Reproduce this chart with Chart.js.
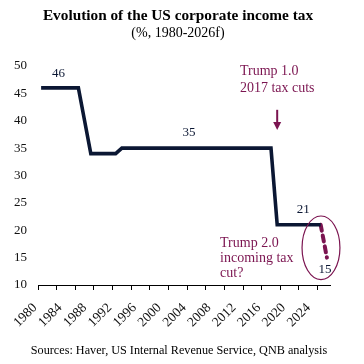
<!DOCTYPE html>
<html>
<head>
<meta charset="utf-8">
<script src="https://cdn.jsdelivr.net/npm/chart.js@4.4.1/dist/chart.umd.min.js"></script>
<style>
  html, body { margin: 0; padding: 0; background: #fff; }
  #wrap { position: relative; width: 364px; height: 364px; font-family: 'Liberation Serif', 'Times New Roman', serif; color: #000; }
  #wrap canvas { position: absolute; left: 0; top: 0; }
  .txt { position: absolute; left: -4px; width: 364px; text-align: center; white-space: nowrap; }
  #title { top: 6px; font-size: 15.3px; font-weight: bold; line-height: 18px; }
  #subtitle { top: 24px; font-size: 14px; line-height: 17px; }
  #source { top: 342px; left: -3px; font-size: 12.2px; line-height: 16px; }
</style>
</head>
<body>
<div id="wrap">
  <canvas id="taxChart" width="364" height="364"></canvas>
  <div class="txt" id="title">Evolution of the US corporate income tax</div>
  <div class="txt" id="subtitle">(%, 1980-2026f)</div>
  <div class="txt" id="source">Sources: Haver, US Internal Revenue Service, QNB analysis</div>
</div>
<script>
// ---- data ----
const years = [1980,1981,1982,1983,1984,1985,1986,1987,1988,1989,1990,1991,1992,1993,1994,1995,
  1996,1997,1998,1999,2000,2001,2002,2003,2004,2005,2006,2007,2008,2009,2010,2011,2012,2013,
  2014,2015,2016,2017,2018,2019,2020,2021,2022,2023,2024,2025,2026];
const taxRate = [46,46,46,46,46,46,46,40,34,34,34,34,34,35,35,35,
  35,35,35,35,35,35,35,35,35,35,35,35,35,35,35,35,35,35,
  35,35,35,35,21,21,21,21,21,21,21,21,null];
const forecast = [null,null,null,null,null,null,null,null,null,null,null,null,null,null,null,null,
  null,null,null,null,null,null,null,null,null,null,null,null,null,null,null,null,null,null,
  null,null,null,null,null,null,null,null,null,null,null,21,15];
const yMin = 10, yMax = 50, yStep = 5;
const labelEvery = 4;   // a year label every 4 years
const tickEvery = 3;    // a tick mark every 3 categories, as in the source

const navy = '#0b1733';
const plum = '#7b1450';
const serif = "'Liberation Serif', 'Times New Roman', serif";

// annotations, anchored in (year, value) units
const valueNotes = [
  { text: '46', year: 1982.8, value: 48.7 },
  { text: '35', year: 2003.8, value: 37.8 },
  { text: '21', year: 2022.2, value: 23.7 },
  { text: '15', year: 2025.7, value: 12.8 }
];
const textNotes = [
  { lines: ['Trump 1.0', '2017 tax cuts'], year: 2012, value: 49.1, step: 3.1 },
  { lines: ['Trump 2.0', 'incoming tax', 'cut?'], year: 2008.8, value: 17.7, step: 2.75 }
];

const notesPlugin = {
  id: 'notes',
  afterDatasetsDraw(chart) {
    const { ctx, scales: { x, y } } = chart;
    const px = yr => x.getPixelForValue(yr - years[0]);
    ctx.save();
    ctx.textBaseline = 'middle';

    ctx.font = '13px ' + serif;
    ctx.fillStyle = navy;
    ctx.textAlign = 'center';
    valueNotes.forEach(n => ctx.fillText(n.text, px(n.year), y.getPixelForValue(n.value)));

    ctx.font = '14px ' + serif;
    ctx.fillStyle = plum;
    ctx.textAlign = 'left';
    textNotes.forEach(n => n.lines.forEach((l, i) =>
      ctx.fillText(l, px(n.year), y.getPixelForValue(n.value - i * n.step))));

    // arrow pointing at the 2017 drop
    const ax = px(2018), ay0 = y.getPixelForValue(42), ay1 = y.getPixelForValue(38.3);
    ctx.strokeStyle = plum;
    ctx.lineWidth = 2;
    ctx.beginPath(); ctx.moveTo(ax, ay0); ctx.lineTo(ax, ay1 - 6); ctx.stroke();
    ctx.beginPath();
    ctx.moveTo(ax - 4, ay1 - 8); ctx.lineTo(ax + 4, ay1 - 8); ctx.lineTo(ax, ay1); ctx.closePath();
    ctx.fill();

    // ellipse round the forecast
    const cx = px(2025.05), cy = y.getPixelForValue(16.8);
    const rx = px(2028.1) - cx, ry = cy - y.getPixelForValue(22.6);
    ctx.lineWidth = 1.2;
    ctx.beginPath(); ctx.ellipse(cx, cy, rx, ry, 0, 0, Math.PI * 2); ctx.stroke();
    ctx.restore();
  }
};

new Chart(document.getElementById('taxChart'), {
  type: 'line',
  data: {
    labels: years,
    datasets: [
      { data: taxRate, borderColor: navy, borderWidth: 3.6, borderJoinStyle: 'miter',
        pointRadius: 0, tension: 0, spanGaps: false },
      { data: forecast, borderColor: plum, borderWidth: 4, borderDash: [6, 5],
        borderCapStyle: 'round', pointRadius: 0, tension: 0 }
    ]
  },
  options: {
    responsive: false,
    animation: false,
    events: [],
    layout: { padding: { top: 66, right: 34, bottom: 0, left: 0 } },
    plugins: { legend: { display: false }, tooltip: { enabled: false }, title: { display: false } },
    scales: {
      x: {
        type: 'category',
        offset: true,
        border: { display: true, color: '#000', width: 1 },
        grid: {
          display: true, drawOnChartArea: false, drawTicks: true, tickLength: 5, offset: true,
          tickColor: c => (c.index % tickEvery === 0 ? '#000' : 'rgba(0,0,0,0)'), tickWidth: 1
        },
        ticks: {
          autoSkip: false, minRotation: 45, maxRotation: 45, padding: 10, labelOffset: -6,
          color: '#111', font: { family: serif, size: 13.5 },
          callback: (v, i) => (i % labelEvery === 0 ? String(years[i]) : '')
        },
        afterFit: s => { s.height = 79; }
      },
      y: {
        min: yMin, max: yMax,
        border: { display: false },
        grid: { display: false, drawTicks: false },
        ticks: { stepSize: yStep, padding: 11, color: '#111', font: { family: serif, size: 13 } },
        afterFit: s => { s.width = 38; }
      }
    }
  },
  plugins: [notesPlugin]
});
</script>
</body>
</html>
